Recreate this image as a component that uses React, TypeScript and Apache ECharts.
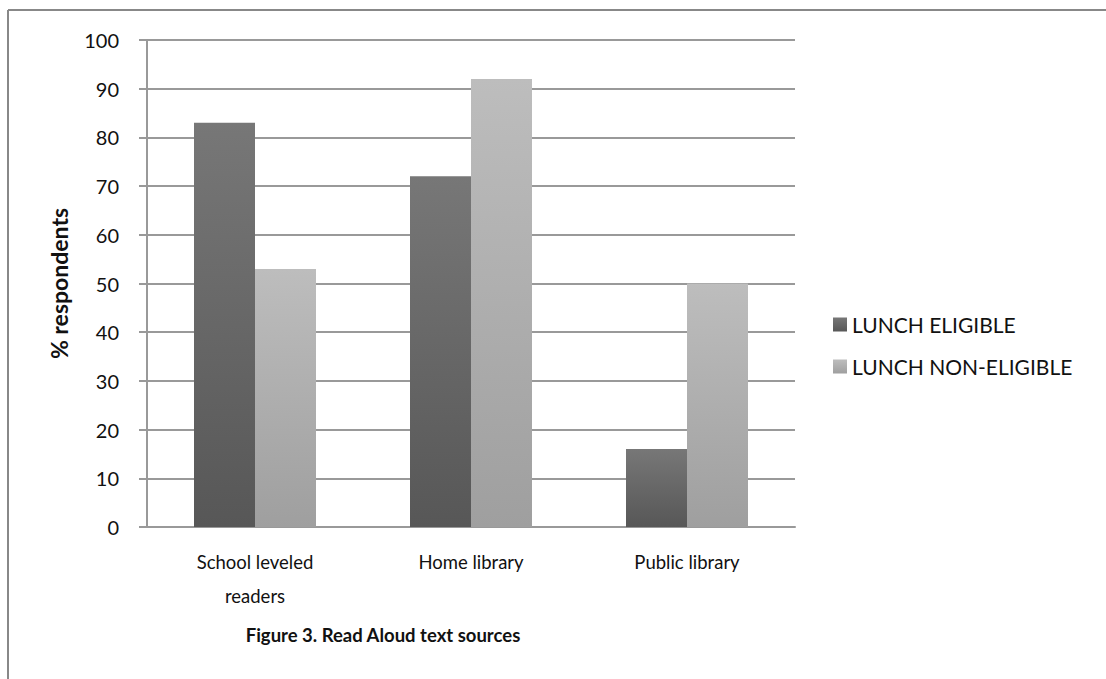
import React, { useEffect, useRef } from "react";
import * as echarts from "echarts";

const categories = ["School leveled\nreaders", "Home library", "Public library"];
const lunchEligible = [83, 72, 16];
const lunchNonEligible = [53, 92, 50];
const seriesNames = ["LUNCH ELIGIBLE", "LUNCH NON-ELIGIBLE"];
const yTicks = { min: 0, max: 100, interval: 10 };

const FONT = "Lato, 'Open Sans', sans-serif";

export default function App() {
  const ref = useRef<HTMLDivElement>(null);
  useEffect(() => {
    if (!ref.current) return;
    const chart = echarts.init(ref.current, null, { renderer: "svg" });
    const grad = (top: string, bottom: string) =>
      new echarts.graphic.LinearGradient(0, 0, 0, 1, [
        { offset: 0, color: top },
        { offset: 1, color: bottom },
      ]);
    chart.setOption({
      animation: false,
      backgroundColor: "#ffffff",
      textStyle: { fontFamily: FONT },
      grid: { left: 147, top: 40, width: 648, height: 487, containLabel: false },
      legend: {
        orient: "vertical",
        left: 828,
        top: 309,
        itemGap: 21,
        itemWidth: 14,
        itemHeight: 14,
        icon: "rect",
        textStyle: { fontSize: 21, color: "#111", fontFamily: FONT },
        data: seriesNames,
      },
      graphic: [
        { type: "line", shape: { x1: 8, y1: 10, x2: 1106, y2: 10 }, style: { stroke: "#888", lineWidth: 2 } },
        { type: "line", shape: { x1: 8, y1: 10, x2: 8, y2: 679 }, style: { stroke: "#888", lineWidth: 2 } },
        {
          type: "text",
          x: 383,
          y: 635,
          style: {
            text: "Figure 3. Read Aloud text sources",
            font: `bold 18.5px ${FONT}`,
            fill: "#111",
            align: "center",
            verticalAlign: "middle",
          },
        },
      ],
      xAxis: {
        type: "category",
        data: categories,
        axisLine: { lineStyle: { color: "#999", width: 2 } },
        axisTick: { show: false },
        axisLabel: { fontSize: 18.5, color: "#111", margin: 18, lineHeight: 34, fontFamily: FONT },
      },
      yAxis: {
        type: "value",
        min: yTicks.min,
        max: yTicks.max,
        interval: yTicks.interval,
        name: "% respondents",
        nameLocation: "middle",
        nameGap: 77,
        nameTextStyle: { fontSize: 23, fontWeight: "bold", color: "#111", fontFamily: FONT },
        axisLine: { show: true, lineStyle: { color: "#999", width: 2 } },
        axisTick: { show: true, length: 8, lineStyle: { color: "#999", width: 2 } },
        axisLabel: { fontSize: 20, color: "#111", margin: 28, fontFamily: FONT },
        splitLine: { lineStyle: { color: "#999", width: 2 } },
      },
      series: [
        {
          name: seriesNames[0],
          type: "bar",
          data: lunchEligible,
          barWidth: 61,
          barGap: "0%",
          itemStyle: { color: grad("#777777", "#575757") },
        },
        {
          name: seriesNames[1],
          type: "bar",
          data: lunchNonEligible,
          barWidth: 61,
          itemStyle: { color: grad("#bdbdbd", "#9f9f9f") },
        },
      ],
    });
    return () => chart.dispose();
  }, []);
  return (
    <div
      ref={ref}
      style={{ position: "absolute", left: 0, top: 0, width: 1106, height: 679 }}
    />
  );
}
